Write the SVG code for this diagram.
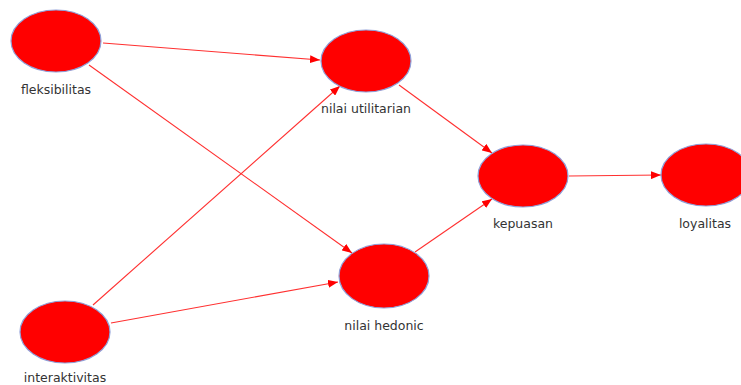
<svg xmlns="http://www.w3.org/2000/svg" width="741" height="385" viewBox="0 0 741 385">
<style>
.n{fill:#ff0000;stroke:#8f9fd8;stroke-width:1.2}
.t{font-family:"DejaVu Sans","Open Sans",sans-serif;font-size:12.5px;fill:#333333;text-anchor:middle}
.e{stroke:#ff3030;stroke-width:1.1;fill:none;marker-end:url(#a)}
</style>
<defs>
<marker id="a" markerWidth="10" markerHeight="8" refX="10" refY="4" orient="auto" markerUnits="userSpaceOnUse">
<path d="M0,0 L10,4 L0,8 Z" fill="#ff0000"/>
</marker>
</defs>
<rect width="741" height="385" fill="#ffffff"/>
<g id="connectors">
<line class="e" x1="103" y1="43" x2="320" y2="60"/>
<line class="e" x1="89" y1="65" x2="352" y2="253"/>
<line class="e" x1="93" y1="305" x2="340" y2="86"/>
<line class="e" x1="111" y1="323" x2="338" y2="282"/>
<line class="e" x1="399" y1="85" x2="492" y2="153"/>
<line class="e" x1="415" y1="252" x2="492" y2="199"/>
<line class="e" x1="569" y1="176" x2="661" y2="175"/>
</g>
<g id="fleksibilitas"><ellipse class="n" cx="56" cy="41" rx="45" ry="31"/><text class="t" x="56" y="94">fleksibilitas</text></g>
<g id="nilai-utilitarian"><ellipse class="n" cx="366" cy="61" rx="45" ry="31"/><text class="t" x="366" y="113">nilai utilitarian</text></g>
<g id="interaktivitas"><ellipse class="n" cx="65" cy="332" rx="45" ry="31"/><text class="t" x="65" y="382">interaktivitas</text></g>
<g id="nilai-hedonic"><ellipse class="n" cx="384" cy="276" rx="45" ry="32"/><text class="t" x="384" y="330">nilai hedonic</text></g>
<g id="kepuasan"><ellipse class="n" cx="523" cy="176" rx="45" ry="31"/><text class="t" x="523" y="228">kepuasan</text></g>
<g id="loyalitas"><ellipse class="n" cx="706" cy="175" rx="45" ry="31"/><text class="t" x="705" y="228">loyalitas</text></g>
</svg>
